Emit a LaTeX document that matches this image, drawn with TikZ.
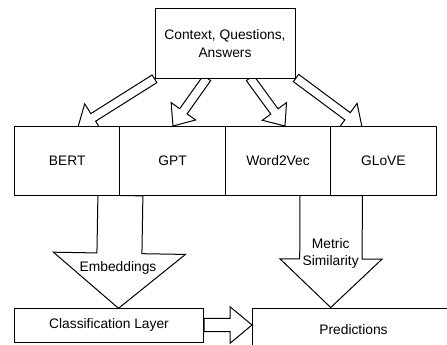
\documentclass[tikz,border=0pt]{standalone}
\usepackage{fontspec}
\setmainfont{Liberation Sans}
\usetikzlibrary{calc}
\pgfdeclarelayer{bg}
\pgfsetlayers{bg,main}
% #1 options, #2 start, #3 tip, #4 shaft half width, #5 head half width, #6 head length
\newcommand\hollowarrow[6][]{%
  \coordinate (ha-h) at ($(#3)!#6!(#2)$);
  \draw[harrow,#1] ($(#2)!#4!90:(#3)$) -- ($(ha-h)!#4!90:(#3)$) -- ($(ha-h)!#5!90:(#3)$)
    -- (#3) -- ($(ha-h)!#5!-90:(#3)$) -- ($(ha-h)!#4!-90:(#3)$) -- ($(#2)!#4!-90:(#3)$) -- cycle;
}
\begin{document}
\begin{tikzpicture}[x=1pt,y=-1pt,
  box/.style={draw=black, line width=1pt, fill=white, align=center, inner sep=0pt,
    font=\fontsize{13.8}{18}\selectfont},
  rowbox/.style={box, minimum width=105.4pt, minimum height=69pt},
  harrow/.style={draw=black, fill=white, line width=1pt, line join=miter},
  lbl/.style={align=center, inner sep=0pt, font=\fontsize{13.8}{16.7}\selectfont}]
\useasboundingbox (0,0) rectangle (447,345);

\node[box, minimum width=140pt, minimum height=70pt] (ctx) at (225,43.3) {Context, Questions,\\Answers};

\node[rowbox] (bert)  at (67.2,160.5)  {BERT};
\node[rowbox] (gpt)   at (172.6,160.5) {GPT};
\node[rowbox] (w2v)   at (278,160.5)   {Word2Vec};
\node[rowbox] (glove) at (383.4,160.5) {GLoVE};

\node[box, minimum width=189pt, minimum height=34pt] (cls) at (109,325) {Classification Layer};
\begin{scope}
  \clip (0,0) rectangle (447,345);
  \node[box, minimum width=203pt, minimum height=44pt] (pred) at (353.5,330) {Predictions};
\end{scope}

\coordinate (s2) at (207,78);
\coordinate (s3) at (250,78);
\coordinate (s4) at (296,78);
\coordinate (t1) at (78,127);
\coordinate (t2) at (173,126);
\coordinate (t3) at (285,126);
\coordinate (t4) at (362,127);
\coordinate (te) at (118.5,308.3);
\coordinate (tm) at (330.7,307.5);
\coordinate (tp) at (252,325);

\begin{pgfonlayer}{bg}
  \fill[white] (0,0) rectangle (447,345);
  \hollowarrow{ctx.south west}{t1}{4.5pt}{16pt}{18pt}
  \hollowarrow{s2}{t2}{4.5pt}{15pt}{18pt}
  \hollowarrow{s3}{t3}{4.5pt}{15pt}{18pt}
  \hollowarrow{s4}{t4}{4.5pt}{16pt}{18pt}
  \hollowarrow{bert.south east}{te}{22.5pt}{66pt}{55pt}
  \hollowarrow{w2v.south east}{tm}{31.2pt}{51pt}{48.5pt}
  \hollowarrow{cls.east}{tp}{6.7pt}{18.3pt}{22pt}
\end{pgfonlayer}

\node[lbl] (embl) at (118,268) {Embeddings};
\node[lbl] (metl) at (330.7,253.3) {Metric\\Similarity};
\end{tikzpicture}
\end{document}
